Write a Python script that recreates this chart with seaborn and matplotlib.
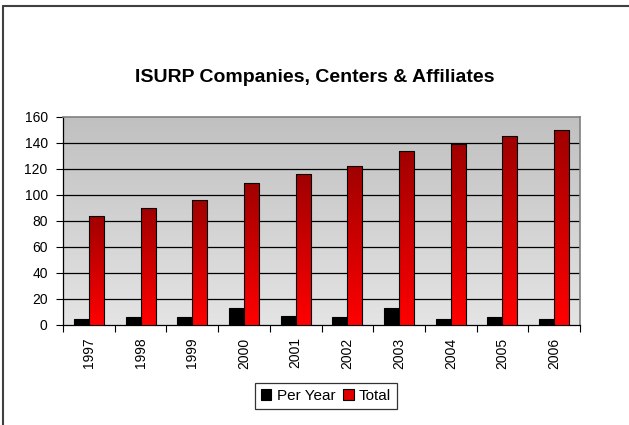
import numpy as np
import pandas as pd
import matplotlib
matplotlib.use("Agg")
import matplotlib.pyplot as plt
from matplotlib.colors import LinearSegmentedColormap
from matplotlib.patches import Rectangle
import seaborn as sns

years = ["1997", "1998", "1999", "2000", "2001", "2002", "2003", "2004", "2005", "2006"]
per_year = [5, 6, 6, 13, 7, 6, 13, 5, 6, 5]
total = [84, 90, 96, 109, 116, 122, 134, 139, 145, 150]
series = ["Per Year", "Total"]
title = "ISURP Companies, Centers & Affiliates"
yticks = [0, 20, 40, 60, 80, 100, 120, 140, 160]

df = pd.DataFrame({
    "year": years * 2,
    "value": per_year + total,
    "series": [series[0]] * len(years) + [series[1]] * len(years),
})

sns.set_theme(style="white")
plt.rcParams["font.family"] = ["Liberation Sans", "DejaVu Sans"]
plt.rcParams["text.color"] = "black"
plt.rcParams["xtick.color"] = "black"
plt.rcParams["ytick.color"] = "black"
plt.rcParams["xtick.labelcolor"] = "black"
plt.rcParams["ytick.labelcolor"] = "black"

fig = plt.figure(figsize=(6.29, 4.25), dpi=100)
ax = fig.add_axes([63 / 629, 1 - 325 / 425, (580 - 63) / 629, (325 - 117) / 425])

sns.barplot(data=df, x="year", y="value", hue="series", order=years,
            hue_order=series, palette=["#000000", "#ff0000"], width=0.58,
            edgecolor="black", linewidth=0.8, ax=ax, legend=False, zorder=3)

ax.set_ylim(0, 160)
ax.set_xlim(-0.5, len(years) - 0.5)

# background gradient
bg = LinearSegmentedColormap.from_list("bg", ["#e4e4e4", "#c0c0c0"])
grad = np.linspace(0, 1, 256).reshape(-1, 1)
ax.imshow(grad, cmap=bg, aspect="auto", origin="lower",
          extent=[-0.5, len(years) - 0.5, 0, 160], zorder=0)

# red gradient in Total bars
red = LinearSegmentedColormap.from_list("red", ["#ff0000", "#a00000"])
n = len(years)
patches = ax.patches
for p in list(patches)[n:2 * n]:
    x0, y0 = p.get_x(), p.get_y()
    w, h = p.get_width(), p.get_height()
    p.set_facecolor("none")
    p.set_zorder(4)
    im = ax.imshow(grad, cmap=red, aspect="auto", origin="lower",
                   extent=[x0, x0 + w, y0, y0 + h], zorder=3.5)
    im.set_clip_path(p)
ax.set_xlim(-0.5, len(years) - 0.5)
ax.set_ylim(0, 160)

ax.set_yticks(yticks)
ax.set_yticklabels([str(v) for v in yticks], fontsize=10, color="black")
for yv in yticks[1:-1]:
    ax.axhline(yv, color="black", linewidth=0.9, zorder=1)

ax.set_xticks(range(n))
ax.set_xticklabels(years, rotation=90, fontsize=10, color="black")
ax.set_xticks(np.arange(-0.5, n, 1.0), minor=True)
ax.tick_params(axis="x", which="major", length=0, pad=9)
ax.tick_params(axis="x", which="minor", length=5, width=0.8, color="black", direction="out", bottom=True)
ax.tick_params(axis="y", length=5, width=0.8, color="black", direction="out", left=True, pad=6)
ax.set_xlabel("")
ax.set_ylabel("")

for s in ["top", "right"]:
    ax.spines[s].set_color("#808080")
    ax.spines[s].set_linewidth(1.2)
for s in ["left", "bottom"]:
    ax.spines[s].set_color("black")
    ax.spines[s].set_linewidth(0.9)

fig.text(315 / 629, 1 - 77 / 425, title, ha="center", va="center",
         fontsize=14, fontweight="bold", color="black")

handles = [Rectangle((0, 0), 1, 1, facecolor="#000000", edgecolor="black", linewidth=0.8),
           Rectangle((0, 0), 1, 1, facecolor="#e00000", edgecolor="black", linewidth=0.8)]
leg = fig.legend(handles, series, loc="center", bbox_to_anchor=(326 / 629, 1 - 396 / 425),
                 ncol=2, fontsize=11, frameon=True, fancybox=False, handlelength=0.7,
                 handleheight=0.7, handletextpad=0.35, columnspacing=0.5, borderpad=0.4,
                 labelcolor="black")
leg.get_frame().set_edgecolor("black")
leg.get_frame().set_linewidth(0.9)

# chart outer border (left and top visible)
fig.add_artist(plt.Line2D([3.5 / 629, 3.5 / 629], [0, 1 - 6 / 425], transform=fig.transFigure,
                          color="#404040", linewidth=1.5))
fig.add_artist(plt.Line2D([3.5 / 629, 1], [1 - 6 / 425, 1 - 6 / 425], transform=fig.transFigure,
                          color="#404040", linewidth=1.5))

fig.savefig("out.png", dpi=100)
